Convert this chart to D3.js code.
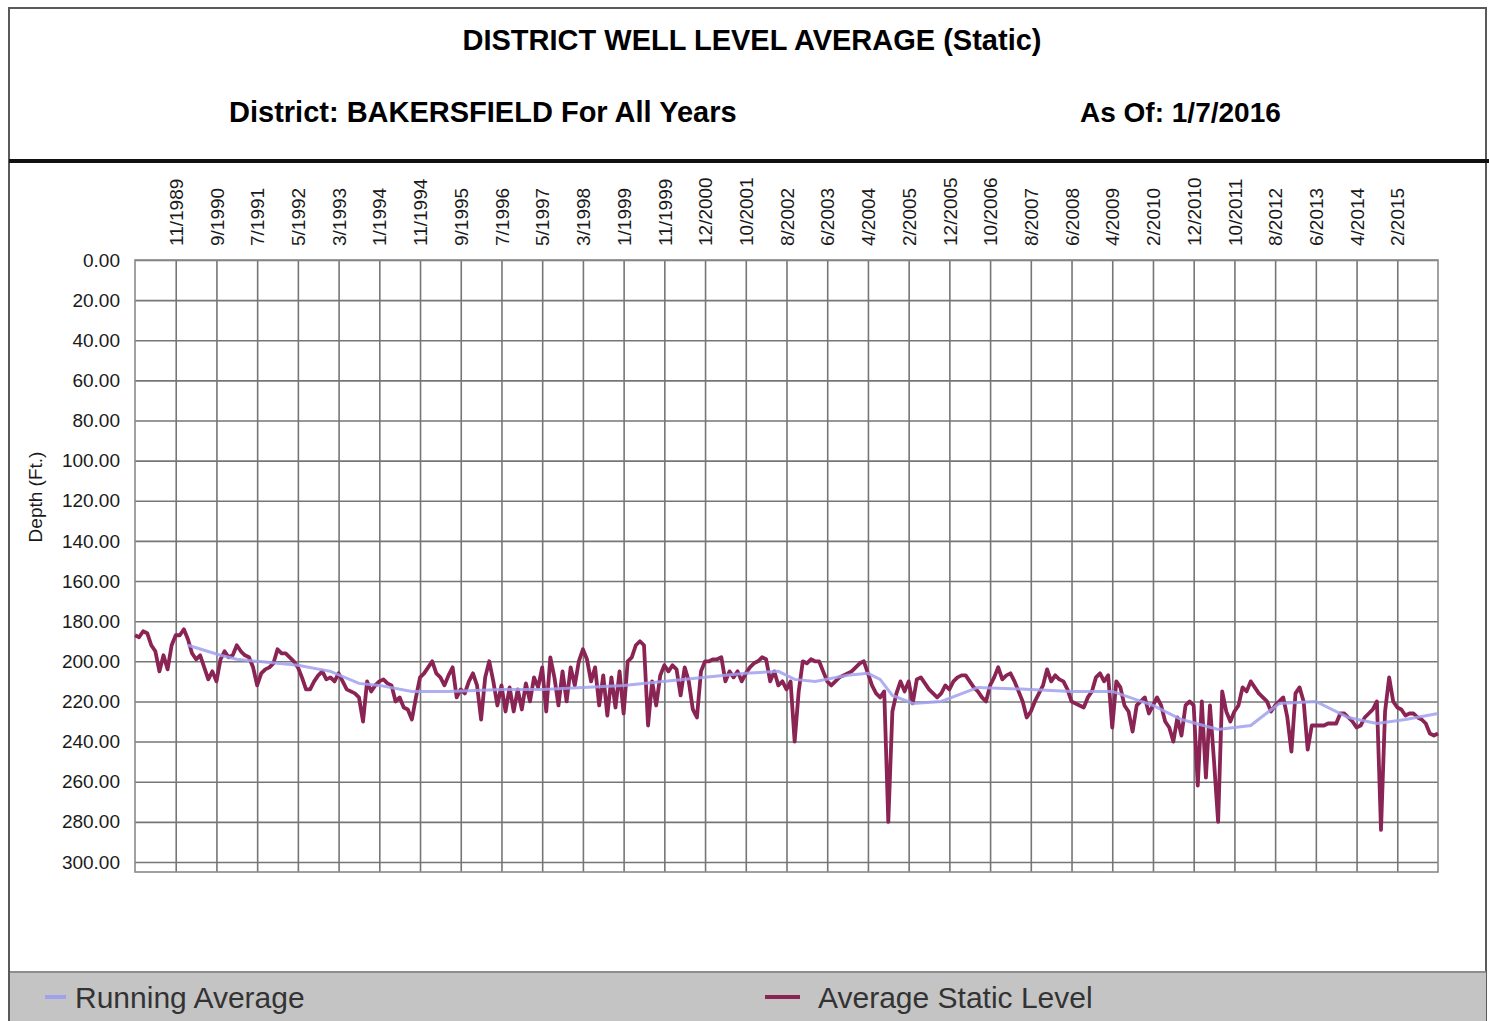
<!DOCTYPE html>
<html>
<head>
<meta charset="utf-8">
<title>District Well Level Average (Static)</title>
<script src="https://cdn.jsdelivr.net/npm/d3@7"></script>
<style>
  body { margin: 0; background: #fff; }
  svg { display: block; font-family: "Liberation Sans", Arial, sans-serif; }
</style>
</head>
<body>
<svg id="chart" width="1489" height="1021"></svg>
<script>
/*****************************************************************************/
/* Data (one month per step, labels every 10 steps) */
/*****************************************************************************/
var tickLabels = [
  "11/1989", "9/1990", "7/1991", "5/1992", "3/1993", "1/1994", "11/1994", "9/1995",
  "7/1996", "5/1997", "3/1998", "1/1999", "11/1999", "12/2000", "10/2001", "8/2002",
  "6/2003", "4/2004", "2/2005", "12/2005", "10/2006", "8/2007", "6/2008", "4/2009",
  "2/2010", "12/2010", "10/2011", "8/2012", "6/2013", "4/2014", "2/2015"
];

var yTicks = [0, 20, 40, 60, 80, 100, 120, 140, 160, 180, 200, 220, 240, 260, 280, 300];

// Average Static Level, ft below surface
var staticLevel = [
  187, 188, 185, 186, 192, 195, 205, 197, 204, 192,
  187, 187, 184, 189, 196, 199, 197, 203, 209, 205,
  210, 199, 195, 198, 197, 192, 195, 197, 198, 203,
  212, 206, 204, 203, 201, 194, 196, 196, 198, 200,
  203, 208, 214, 214, 210, 207, 205, 209, 208, 210,
  206, 210, 214, 215, 216, 218, 230, 210, 215, 212,
  210, 209, 211, 212, 220, 218, 223, 224, 229, 218,
  208, 206, 203, 200, 206, 208, 212, 207, 203, 218,
  214, 216, 210, 206, 212, 229, 208, 200, 210, 222,
  212, 225, 213, 225, 214, 224, 211, 220, 208, 213,
  203, 225, 198, 208, 222, 205, 220, 203, 212, 200,
  194, 199, 210, 203, 222, 207, 227, 208, 223, 205,
  226, 200, 198, 192, 190, 192, 232, 210, 222, 207,
  202, 205, 202, 204, 217, 203, 210, 224, 228, 205,
  200, 200, 199, 199, 198, 210, 205, 208, 205, 210,
  206, 203, 201, 200, 198, 199, 210, 205, 212, 210,
  214, 210, 240, 215, 200, 201, 199, 200, 200, 205,
  210, 212, 210, 208, 207, 206, 205, 203, 201, 200,
  206, 212, 216, 218, 215, 280, 225, 216, 210, 215,
  210, 221, 209, 208, 211, 214, 216, 218, 216, 212,
  214, 210, 208, 207, 207, 210, 213, 215, 218, 220,
  212, 208, 203, 209, 207, 206, 210, 215, 220, 228,
  225, 220, 216, 212, 204, 210, 207, 209, 210, 214,
  220, 221, 222, 223, 218, 215, 208, 206, 210, 207,
  233, 210, 213, 222, 225, 235, 222, 220, 218, 226,
  222, 218, 222, 230, 233, 240, 228, 237, 222, 220,
  222, 262, 220, 258, 222, 250, 280, 215, 225, 230,
  225, 222, 213, 215, 210, 213, 216, 218, 220, 225,
  222, 220, 218, 228, 245, 216, 213, 220, 244, 232,
  232, 232, 232, 231, 231, 231, 226, 226, 228, 230,
  233, 232, 228, 226, 224, 220, 284, 225, 208, 220,
  223, 224, 227, 226, 226, 228, 229, 231, 236, 237,
  236
];

// Running Average, read at the month steps where it bends
var avgStep = [13, 21, 25, 30, 40, 48, 55, 60, 68, 77, 90, 100, 120, 140, 150, 158, 162, 167,
  175, 180, 183, 186, 191, 198, 207, 220, 230, 240, 250, 257, 266, 274, 281, 290, 298, 305, 312, 320];
var avgDepth = [192, 197, 199, 200, 202, 205, 211, 212, 215, 215, 214, 214, 212, 208, 206, 205, 209, 210,
  207, 206, 209, 217, 221, 220, 213, 214, 215, 215, 222, 229, 234, 232, 221, 220, 228, 231, 229, 226];

var seriesNames = ["Running Average", "Average Static Level"];
var seriesColors = ["#a0a0ee", "#8a2454"];

/*****************************************************************************/
/* Frame and header */
/*****************************************************************************/
var svg = d3.select("#chart");

svg.append("rect")
  .attr("x", 9).attr("y", 8)
  .attr("width", 1477).attr("height", 1030)
  .attr("fill", "none")
  .attr("stroke", "#5a5a5a")
  .attr("stroke-width", 2);

svg.append("line")
  .attr("x1", 9).attr("x2", 1489)
  .attr("y1", 161).attr("y2", 161)
  .attr("stroke", "#111")
  .attr("stroke-width", 4);

svg.append("text")
  .attr("x", 752).attr("y", 50)
  .attr("text-anchor", "middle")
  .attr("font-size", 29).attr("font-weight", "bold")
  .text("DISTRICT WELL LEVEL AVERAGE (Static)");

svg.append("text")
  .attr("x", 229).attr("y", 122)
  .attr("font-size", 29).attr("font-weight", "bold")
  .text("District: BAKERSFIELD For All Years");

svg.append("text")
  .attr("x", 1080).attr("y", 122)
  .attr("font-size", 28).attr("font-weight", "bold")
  .text("As Of: 1/7/2016");

/*****************************************************************************/
/* Scales, grid and axes */
/*****************************************************************************/
var x = d3.scaleLinear().domain([0, 320]).range([135, 1438]);
var y = d3.scaleLinear().domain([0, 305]).range([260, 872]);

var tickSteps = tickLabels.map(function (d, i) { return (i + 1) * 10; });

// vertical grid + rotated date labels
var xAxis = svg.append("g")
  .attr("transform", "translate(0,260)")
  .call(d3.axisTop(x)
    .tickValues(tickSteps)
    .tickFormat(function (d, i) { return tickLabels[i]; })
    .tickSize(-612)
    .tickPadding(14));
xAxis.select(".domain").remove();
xAxis.selectAll(".tick line").attr("stroke", "#767676").attr("stroke-width", 1.6);
xAxis.selectAll(".tick text")
  .attr("font-size", 19)
  .attr("font-family", "Liberation Sans, Arial, sans-serif")
  .attr("fill", "#1a1a1a")
  .attr("text-anchor", "start")
  .attr("transform", "rotate(-90)")
  .attr("x", 14).attr("y", 0).attr("dy", "0.35em");

// horizontal grid + depth labels
var yAxis = svg.append("g")
  .attr("transform", "translate(135,0)")
  .call(d3.axisLeft(y)
    .tickValues(yTicks)
    .tickFormat(d3.format(".2f"))
    .tickSize(-1303)
    .tickPadding(15));
yAxis.select(".domain").remove();
yAxis.selectAll(".tick line").attr("stroke", "#767676").attr("stroke-width", 1.6);
yAxis.selectAll(".tick text")
  .attr("font-size", 19)
  .attr("font-family", "Liberation Sans, Arial, sans-serif")
  .attr("fill", "#1a1a1a");

svg.append("rect")
  .attr("x", x(0)).attr("y", y(0))
  .attr("width", x(320) - x(0)).attr("height", y(305) - y(0))
  .attr("fill", "none")
  .attr("stroke", "#8a8a8a")
  .attr("stroke-width", 1.6);

svg.append("text")
  .attr("transform", "translate(42,497) rotate(-90)")
  .attr("text-anchor", "middle")
  .attr("font-size", 19)
  .attr("fill", "#1a1a1a")
  .text("Depth (Ft.)");

/*****************************************************************************/
/* Lines */
/*****************************************************************************/
var line = d3.line()
  .x(function (d) { return x(d[0]); })
  .y(function (d) { return y(d[1]); });

svg.append("path")
  .datum(staticLevel.map(function (v, i) { return [i, v]; }))
  .attr("d", line)
  .attr("fill", "none")
  .attr("stroke", seriesColors[1])
  .attr("stroke-width", 3.8)
  .attr("stroke-linejoin", "round");

svg.append("path")
  .datum(avgStep.map(function (s, i) { return [s, avgDepth[i]]; }))
  .attr("d", line)
  .attr("fill", "none")
  .attr("stroke", seriesColors[0])
  .attr("stroke-width", 3)
  .attr("stroke-opacity", 0.85);

/*****************************************************************************/
/* Legend */
/*****************************************************************************/
svg.append("rect")
  .attr("x", 10).attr("y", 972)
  .attr("width", 1476).attr("height", 60)
  .attr("fill", "#c4c4c4");
svg.append("line")
  .attr("x1", 10).attr("x2", 1486)
  .attr("y1", 972).attr("y2", 972)
  .attr("stroke", "#8e8e8e").attr("stroke-width", 2);

var legendX = [45, 765];
seriesNames.forEach(function (name, i) {
  svg.append("line")
    .attr("x1", legendX[i]).attr("x2", legendX[i] + (i ? 35 : 21))
    .attr("y1", 997).attr("y2", 997)
    .attr("stroke", seriesColors[i])
    .attr("stroke-width", 4);
  svg.append("text")
    .attr("x", legendX[i] + (i ? 53 : 30)).attr("y", 1008)
    .attr("font-size", 30)
    .attr("fill", "#333")
    .text(name);
});
</script>
</body>
</html>
